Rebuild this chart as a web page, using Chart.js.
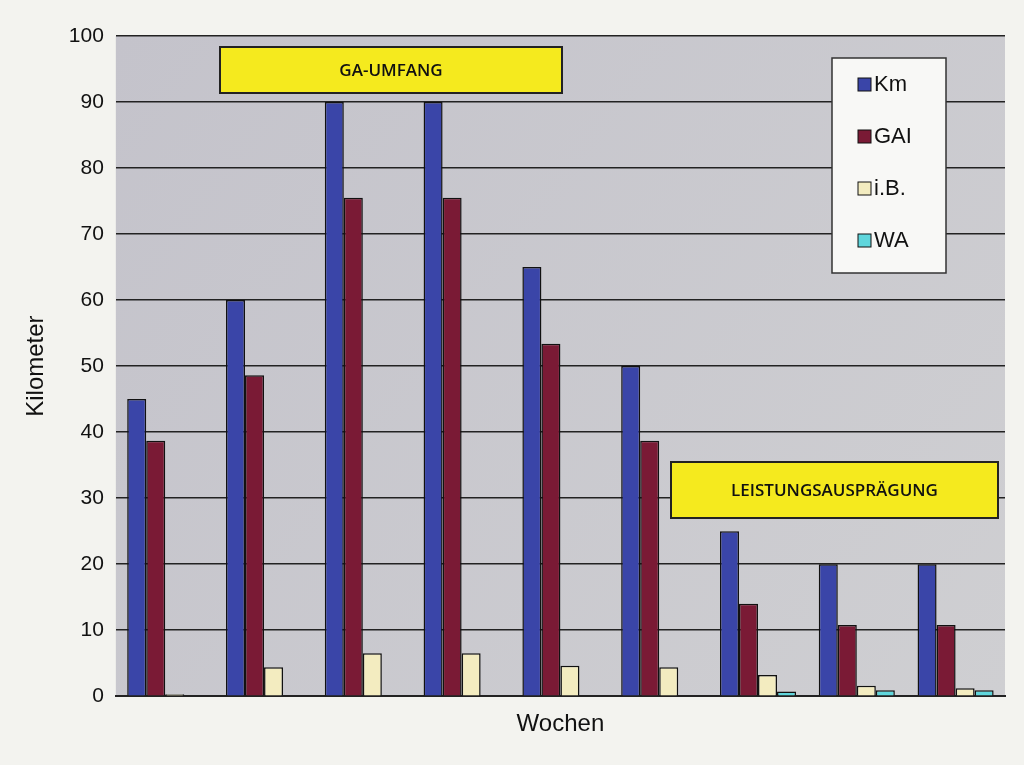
<!DOCTYPE html>
<html><head><meta charset="utf-8">
<script src="https://cdn.jsdelivr.net/npm/chart.js@4"></script>
<style>html,body{margin:0;padding:0;background:#f3f3ef;}#w{width:1024px;height:765px;position:relative;}</style>
</head><body><div id="w"><canvas id="c" width="1024" height="765"></canvas></div>
<script>
const categories = ["1","2","3","4","5","6","7","8","9"];
const km  = [45,60,90,90,65,50,25,20,20];
const gai = [38.7,48.6,75.5,75.5,53.4,38.7,14,10.8,10.8];
const ib  = [0.3,4.4,6.5,6.5,4.6,4.4,3.2,1.6,1.2];
const wa  = [0,0,0,0,0,0,0.7,0.9,0.9];
const yTicks = [0,10,20,30,40,50,60,70,80,90,100];

const bg = {id:'bg',beforeDraw(ch){const {ctx,chartArea:a}=ch;ctx.save();
 const g=ctx.createLinearGradient(a.left,a.top,a.right,a.bottom);g.addColorStop(0,'#c4c3cb');g.addColorStop(1,'#cfcfd2');
 ctx.fillStyle=g;ctx.fillRect(a.left,a.top,a.right-a.left,a.bottom-a.top);ctx.restore();}};
const boxes = {id:'boxes',afterDraw(ch){const ctx=ch.ctx;ctx.save();
 const bx=[["GA-UMFANG",220,562,47,93],["LEISTUNGSAUSPRÄGUNG",671,998,462,518]];
 for(const [t,x0,x1,t0,b0] of bx){
  ctx.fillStyle='#f5ea1e';ctx.fillRect(x0,t0,x1-x0,b0-t0);ctx.lineWidth=2;ctx.strokeStyle='#222';ctx.strokeRect(x0,t0,x1-x0,b0-t0);
  ctx.fillStyle='#111';ctx.font='600 17px "Open Sans"';ctx.textAlign='center';ctx.textBaseline='middle';ctx.fillText(t,(x0+x1)/2,(t0+b0)/2+1);}
 ctx.restore();}};
const mk=(l,d,c)=>({label:l,data:d,backgroundColor:c,borderColor:'#111',borderWidth:1.5,borderSkipped:'bottom'});
new Chart(document.getElementById('c'),{type:'bar',
 data:{labels:categories,datasets:[mk('Km',km,'#3a45a8'),mk('GAI',gai,'#7a1a35'),mk('i.B.',ib,'#f3ecc0'),mk('WA',wa,'#5fd6dc')]},
 options:{responsive:false,animation:false,
  layout:{padding:{left:18,right:19,top:36,bottom:22}},
  datasets:{bar:{categoryPercentage:0.77,barPercentage:1}},
  plugins:{tooltip:{enabled:false},legend:{display:false}},
  scales:{
   x:{grid:{display:false,drawTicks:false},border:{color:'#222',width:2},ticks:{display:false},
      title:{display:true,text:'Wochen',font:{family:'Arial',size:24},color:'#111',padding:{top:14}}},
   y:{min:0,max:100,afterBuildTicks(s){s.ticks=yTicks.map(v=>({value:v}));},
      grid:{color:'#222',lineWidth:1.5,drawTicks:false},border:{display:false},
      ticks:{font:{family:'Arial',size:21},color:'#111',padding:12},
      title:{display:true,text:'Kilometer',font:{family:'Arial',size:24},color:'#111',padding:{bottom:6}}}}},
 plugins:[bg,boxes,{id:'leg',afterDraw(ch){const ctx=ch.ctx;ctx.save();
  ctx.fillStyle='#f8f8f6';ctx.fillRect(832,58,114,215);ctx.strokeStyle='#333';ctx.lineWidth=1.5;ctx.strokeRect(832,58,114,215);
  ch.data.datasets.forEach((d,i)=>{const yy=84+i*52;ctx.fillStyle=d.backgroundColor;ctx.fillRect(858,yy-6,13,13);ctx.strokeStyle='#111';ctx.lineWidth=1;ctx.strokeRect(858,yy-6,13,13);
   ctx.fillStyle='#111';ctx.font='22px Arial';ctx.textBaseline='middle';ctx.textAlign='left';ctx.fillText(d.label,874,yy+1);});
  ctx.restore();}}]});
</script></body></html>
